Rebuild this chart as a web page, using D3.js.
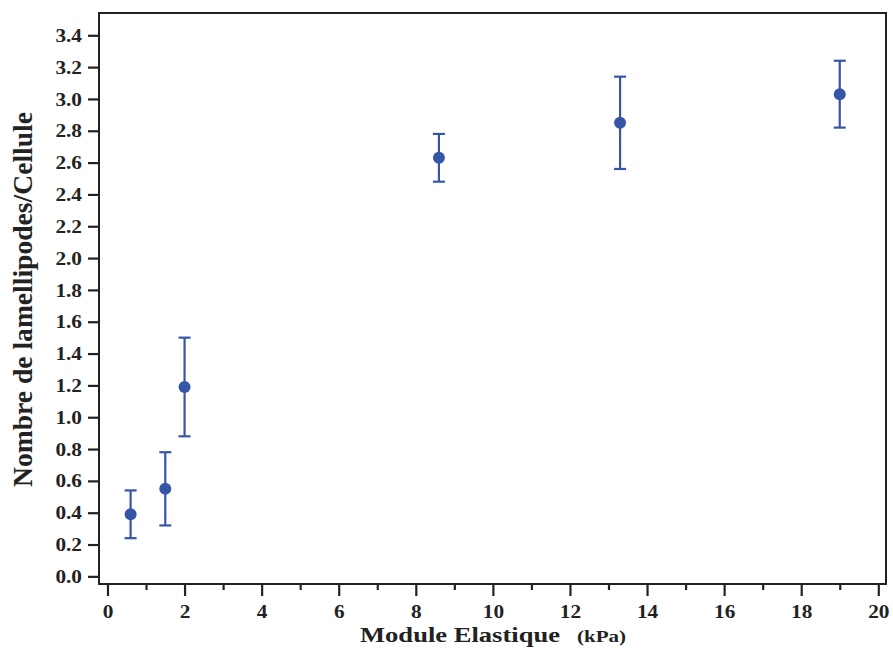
<!DOCTYPE html>
<html><head><meta charset="utf-8">
<script src="https://cdn.jsdelivr.net/npm/d3@7"></script>
<style>body{margin:0;background:#fff}</style>
</head><body>
<svg id="c" width="893" height="651"></svg>
<script>
const xVals = [0.6, 1.5, 2.0, 8.6, 13.3, 19.0];
const yVals = [0.39, 0.55, 1.19, 2.63, 2.85, 3.03];
const yErr  = [0.15, 0.23, 0.31, 0.15, 0.29, 0.21];
const xTicks = [0,2,4,6,8,10,12,14,16,18,20];
const xMinor = [1,3,5,7,9,11,13,15,17,19];
const yTicks = [0,0.2,0.4,0.6,0.8,1.0,1.2,1.4,1.6,1.8,2.0,2.2,2.4,2.6,2.8,3.0,3.2,3.4];

const svg = d3.select('#c');
const L=99, R=886, T=13, B=584;
const x = d3.scaleLinear().domain([-0.22, 20.2]).range([L, R]);
const y = d3.scaleLinear().domain([-0.048, 3.54]).range([B, T]);
const font = "'Liberation Serif','Times New Roman',serif";
const blue = '#3556a8';
const ink = '#222';

function stretch(sel, k){
  sel.each(function(){
    const w = this.getComputedTextLength();
    d3.select(this).attr('textLength', w*k).attr('lengthAdjust','spacingAndGlyphs');
  });
}

// frame
svg.append('rect').attr('x',L).attr('y',T).attr('width',R-L).attr('height',B-T)
  .attr('fill','none').attr('stroke',ink).attr('stroke-width',2);

const xa = svg.append('g').attr('transform',`translate(0,${B})`)
  .call(d3.axisBottom(x).tickValues(xTicks).tickSize(12).tickPadding(9).tickFormat(d3.format('d')));
const xm = svg.append('g').attr('transform',`translate(0,${B})`)
  .call(d3.axisBottom(x).tickValues(xMinor).tickSize(6).tickFormat(''));
const ya = svg.append('g').attr('transform',`translate(${L},0)`)
  .call(d3.axisLeft(y).tickValues(yTicks).tickSize(11).tickPadding(6).tickFormat(d3.format('.1f')));
[xa,xm,ya].forEach(g=>{
  g.select('.domain').remove();
  g.selectAll('line').attr('stroke',ink).attr('stroke-width',2.2);
  g.selectAll('text').attr('font-family',font).attr('font-weight','bold').attr('font-size',19).attr('fill',ink);
  stretch(g.selectAll('text'), 1.12);
});

const data = xVals.map((v,i)=>({x:v,y:yVals[i],e:yErr[i]}));
const g = svg.append('g').attr('stroke',blue).attr('stroke-width',2.2);
data.forEach(d=>{
  g.append('line').attr('x1',x(d.x)).attr('x2',x(d.x)).attr('y1',y(d.y+d.e)).attr('y2',y(d.y-d.e));
  [d.y+d.e,d.y-d.e].forEach(v=>g.append('line').attr('x1',x(d.x)-6).attr('x2',x(d.x)+6).attr('y1',y(v)).attr('y2',y(v)));
});
svg.append('g').selectAll('circle').data(data).join('circle')
  .attr('cx',d=>x(d.x)).attr('cy',d=>y(d.y)).attr('r',6).attr('fill',blue);

// axis titles
svg.append('text').attr('x',360).attr('y',642)
  .attr('font-family',font).attr('font-weight','bold').attr('fill',ink).attr('font-size',21)
  .text('Module Elastique').attr('textLength',200).attr('lengthAdjust','spacingAndGlyphs');
svg.append('text').attr('x',577).attr('y',642)
  .attr('font-family',font).attr('font-weight','bold').attr('fill',ink).attr('font-size',16)
  .text('(kPa)').attr('textLength',49).attr('lengthAdjust','spacingAndGlyphs');
svg.append('text').attr('transform',`translate(32,299.5) rotate(-90)`).attr('text-anchor','middle')
  .attr('font-family',font).attr('font-weight','bold').attr('font-size',28).attr('fill',ink)
  .text('Nombre de lamellipodes/Cellule').attr('textLength',375).attr('lengthAdjust','spacingAndGlyphs');
</script>
</body></html>
